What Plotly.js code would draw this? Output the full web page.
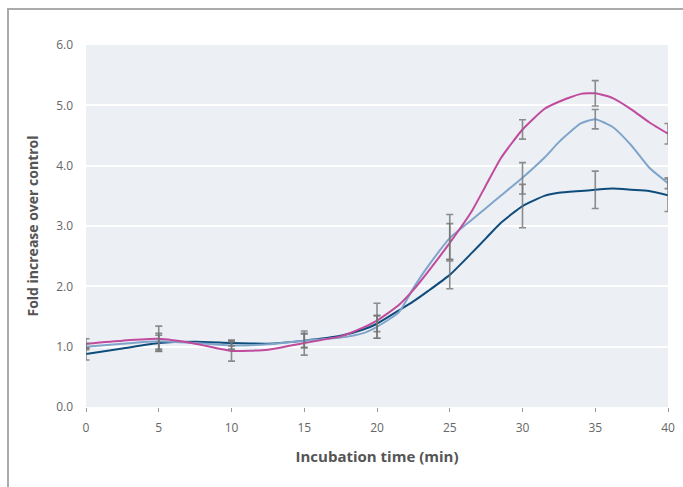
<!DOCTYPE html>
<html>
<head>
<meta charset="utf-8">
<script src="https://cdn.plot.ly/plotly-3.0.1.min.js"></script>
<style>
  html, body { margin: 0; padding: 0; background: #fff; }
  #wrap { position: relative; width: 683px; height: 487px; overflow: hidden; }
  #chart { position: absolute; left: 0; top: 0; width: 683px; height: 487px; }
  #frame { position: absolute; left: 7px; top: 8px; width: 700px; height: 500px;
           border-left: 2px solid #ababab; border-top: 2px solid #ababab; pointer-events: none; }
</style>
</head>
<body>
<div id="wrap"><div id="chart"></div><div id="frame"></div></div>
<script>
// Sampled curve times (min)
const time = [0, 2.5, 5, 7.5, 10, 12.5, 15, 17.5, 19, 20, 21.5, 22.5, 23.5, 25, 26.5, 27.5, 28.5, 30, 31.5, 32.5, 34, 35, 36.2, 37.5, 38.7, 40];
const pinkSeries  = [1.05, 1.10, 1.13, 1.05, 0.93, 0.95, 1.06, 1.17, 1.31, 1.43, 1.69, 1.94, 2.24, 2.72, 3.24, 3.68, 4.12, 4.60, 4.94, 5.06, 5.19, 5.20, 5.12, 4.93, 4.72, 4.53];
const lightSeries = [1.00, 1.05, 1.09, 1.06, 1.02, 1.04, 1.10, 1.15, 1.22, 1.33, 1.57, 1.97, 2.33, 2.80, 3.10, 3.30, 3.50, 3.80, 4.13, 4.39, 4.70, 4.77, 4.64, 4.33, 3.97, 3.71];
const darkSeries  = [0.88, 0.97, 1.06, 1.08, 1.06, 1.05, 1.10, 1.18, 1.28, 1.38, 1.60, 1.75, 1.92, 2.19, 2.55, 2.80, 3.05, 3.33, 3.50, 3.55, 3.58, 3.60, 3.62, 3.60, 3.58, 3.51];

// Error-bar sample times and values
const errTime = [0, 5, 10, 15, 20, 25, 30, 35, 40];
const pinkMean  = [1.05, 1.13, 0.93, 1.06, 1.43, 2.74, 4.60, 5.20, 4.53];
const pinkErr   = [0.08, 0.21, 0.17, 0.20, 0.29, 0.30, 0.16, 0.21, 0.17];
const lightMean = [1.00, 1.09, 1.02, 1.10, 1.33, 2.82, 3.79, 4.77, 3.71];
const lightErr  = [0.05, 0.13, 0.06, 0.11, 0.19, 0.37, 0.26, 0.16, 0.09];
const darkMean  = [0.88, 1.06, 1.06, 1.10, 1.38, 2.19, 3.33, 3.60, 3.51];
const darkErr   = [0.10, 0.13, 0.05, 0.12, 0.13, 0.23, 0.36, 0.31, 0.27];

const xTicks = [0, 5, 10, 15, 20, 25, 30, 35, 40];
const yTicks = [0, 1, 2, 3, 4, 5, 6];

const colors = { pink: '#c04b9c', light: '#7fa5ca', dark: '#0e4c7c' };

function lineTrace(y, color) {
  return { x: time, y: y, type: 'scatter', mode: 'lines',
           line: { color: color, width: 2, shape: 'spline', smoothing: 0.5 },
           hoverinfo: 'skip', showlegend: false };
}
function errTrace(y, e) {
  return { x: errTime, y: y, type: 'scatter', mode: 'markers',
           marker: { size: 1, opacity: 0 },
           error_y: { type: 'data', array: e, visible: true, color: 'rgba(115,115,115,0.8)', thickness: 1.6, width: 3.5 },
           hoverinfo: 'skip', showlegend: false };
}

const data = [
  lineTrace(darkSeries, colors.dark),
  lineTrace(lightSeries, colors.light),
  lineTrace(pinkSeries, colors.pink),
  errTrace(darkMean, darkErr),
  errTrace(lightMean, lightErr),
  errTrace(pinkMean, pinkErr)
];

const font = '"Open Sans", Lato, sans-serif';
const layout = {
  width: 683, height: 487,
  margin: { l: 86, r: 15, t: 45, b: 80 },
  paper_bgcolor: '#ffffff',
  plot_bgcolor: '#eceff4',
  font: { family: font, color: '#666666', size: 12 },
  showlegend: false,
  xaxis: {
    range: [0, 40], tickvals: xTicks, ticktext: xTicks.map(String),
    showgrid: false, zeroline: false, showline: false,
    ticks: 'outside', ticklen: 4, tickwidth: 1, tickcolor: '#999',
    ticklabelstandoff: 6,
    tickfont: { family: font, size: 12, color: '#666' },
    title: { text: 'Incubation time (min)', font: { family: font, size: 15, color: '#555', weight: 'bold' }, standoff: 16 }
  },
  yaxis: {
    range: [0, 6], tickvals: yTicks, ticktext: yTicks.map(v => v.toFixed(1)),
    showgrid: true, gridcolor: '#ffffff', gridwidth: 2,
    zeroline: false, showline: false, ticks: '',
    ticklabelstandoff: 12,
    tickfont: { family: font, size: 12, color: '#666' },
    title: { text: 'Fold increase over control', font: { family: font, size: 14, color: '#555', weight: 'bold' }, standoff: 14 }
  }
};

Plotly.newPlot('chart', data, layout, { displayModeBar: false, staticPlot: true });
</script>
</body>
</html>
